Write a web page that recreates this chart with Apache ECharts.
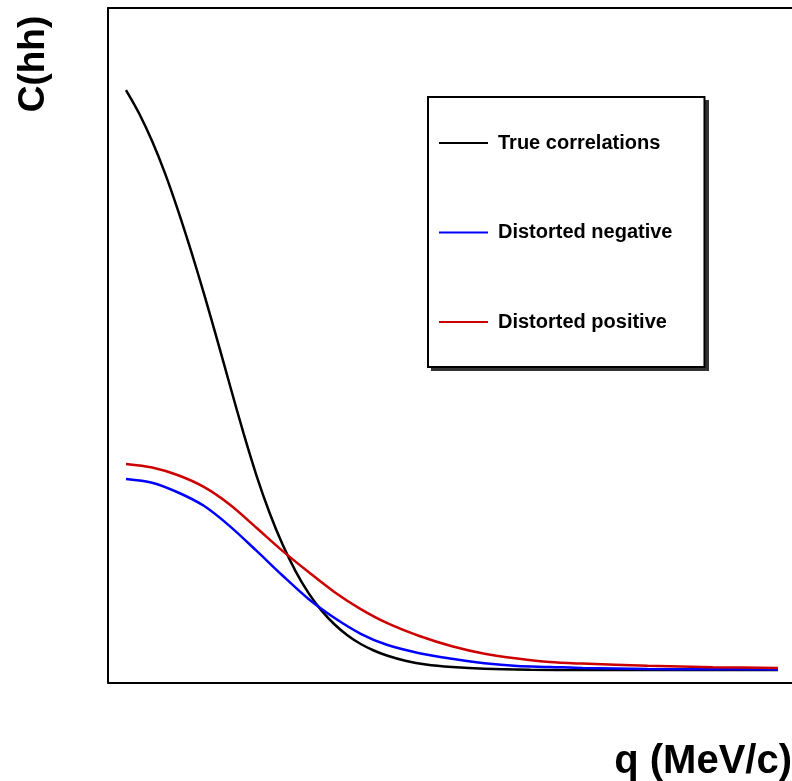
<!DOCTYPE html>
<html>
<head>
<meta charset="utf-8">
<script src="https://cdn.jsdelivr.net/npm/echarts@6/dist/echarts.min.js"></script>
<style>
html,body{margin:0;padding:0;background:#fff;}
#chart{width:792px;height:781px;}
</style>
</head>
<body>
<div id="chart"></div>
<script>
// Series names
const seriesNames = ['True correlations', 'Distorted negative', 'Distorted positive'];
const seriesColors = ['#000000', '#0000ff', '#cc0000'];

// Axis titles
const xTitle = 'q (MeV/c)';
const yTitle = 'C(hh)';

// [q, C(hh)] pairs (q in arbitrary units 0..100)
const trueCorr = [
  [0, 2.0000], [2, 1.9600], [4, 1.9119], [6, 1.8559], [8, 1.7917],
  [10, 1.7217], [12, 1.6472], [14, 1.5686], [16, 1.4884], [18, 1.4091],
  [20, 1.3357], [22, 1.2716], [24, 1.2166], [26, 1.1705], [28, 1.1326],
  [30, 1.1024], [32, 1.0784], [34, 1.0595], [36, 1.0448], [38, 1.0336],
  [40, 1.0250], [43, 1.0155], [46, 1.0095], [50, 1.0052], [55, 1.0021],
  [62, 1.0005], [70, 1.0000], [80, 1.0000], [90, 1.0000], [100, 1.0000]
];
const distortedNeg = [
  [0, 1.3293], [4, 1.3229], [8, 1.3060], [12, 1.2826], [16, 1.2472],
  [20, 1.2057], [24, 1.1629], [28, 1.1224], [32, 1.0895], [36, 1.0624],
  [40, 1.0434], [45, 1.0290], [50, 1.0193], [55, 1.0114], [60, 1.0067],
  [65, 1.0053], [70, 1.0034], [80, 1.0017], [90, 1.0012], [100, 1.0009]
];
const distortedPos = [
  [0, 1.3552], [4, 1.3490], [8, 1.3357], [12, 1.3152], [16, 1.2845],
  [20, 1.2453], [24, 1.2053], [28, 1.1688], [32, 1.1341], [36, 1.1050],
  [40, 1.0812], [45, 1.0586], [50, 1.0410], [55, 1.0281], [60, 1.0198],
  [65, 1.0136], [70, 1.0110], [80, 1.0072], [90, 1.0048], [100, 1.0034]
];
const seriesData = [trueCorr, distortedNeg, distortedPos];

// Axis ranges
const xMin = -2.761, xMax = 102.147;
const yMin = 0.9784, yMax = 2.1414;

const chart = echarts.init(document.getElementById('chart'), null, {renderer: 'canvas'});

const font = '"Liberation Sans", Arial, Helvetica, sans-serif';
const frameLine = {show: true, onZero: false, lineStyle: {color: '#000', width: 2}};
const hidden = {axisTick: {show: false}, axisLabel: {show: false}, splitLine: {show: false}};

chart.setOption({
  animation: false,
  backgroundColor: '#ffffff',
  grid: {left: 108, top: 8, right: 0, height: 674.5},
  xAxis: [
    Object.assign({type: 'value', position: 'bottom', min: xMin, max: xMax, axisLine: frameLine}, hidden),
    Object.assign({type: 'value', position: 'top', min: xMin, max: xMax, axisLine: frameLine}, hidden)
  ],
  yAxis: Object.assign({type: 'value', min: yMin, max: yMax, axisLine: frameLine}, hidden),
  legend: {
    orient: 'vertical',
    left: 428, top: 97,
    padding: [36, 32, 35, 11],
    itemGap: 69.5,
    itemWidth: 49, itemHeight: 2,
    icon: 'rect',
    data: seriesNames,
    textStyle: {fontFamily: font, fontWeight: 'bold', fontSize: 20, color: '#000', padding: [0, 0, 0, 5]},
    backgroundColor: '#fff', borderColor: '#000', borderWidth: 2,
    z: 10
  },
  graphic: [
    {
      type: 'rect', z: 5, silent: true,
      shape: {x: 431, y: 100, width: 278, height: 271},
      style: {fill: '#333'}
    },
    {
      type: 'text', x: 34, y: 64, rotation: Math.PI / 2,
      style: {text: yTitle, font: 'bold 37px ' + font, fill: '#000', align: 'center', verticalAlign: 'middle'}
    },
    {
      type: 'text', x: 792, y: 762,
      style: {text: xTitle, font: 'bold 40px ' + font, fill: '#000', align: 'right', verticalAlign: 'middle'}
    }
  ],
  series: seriesNames.map((name, i) => ({
    name: name,
    type: 'line',
    data: seriesData[i],
    showSymbol: false, symbol: 'none',
    smooth: 0.3,
    lineStyle: {color: seriesColors[i], width: 2.5},
    itemStyle: {color: seriesColors[i]}
  }))
});
</script>
</body>
</html>
